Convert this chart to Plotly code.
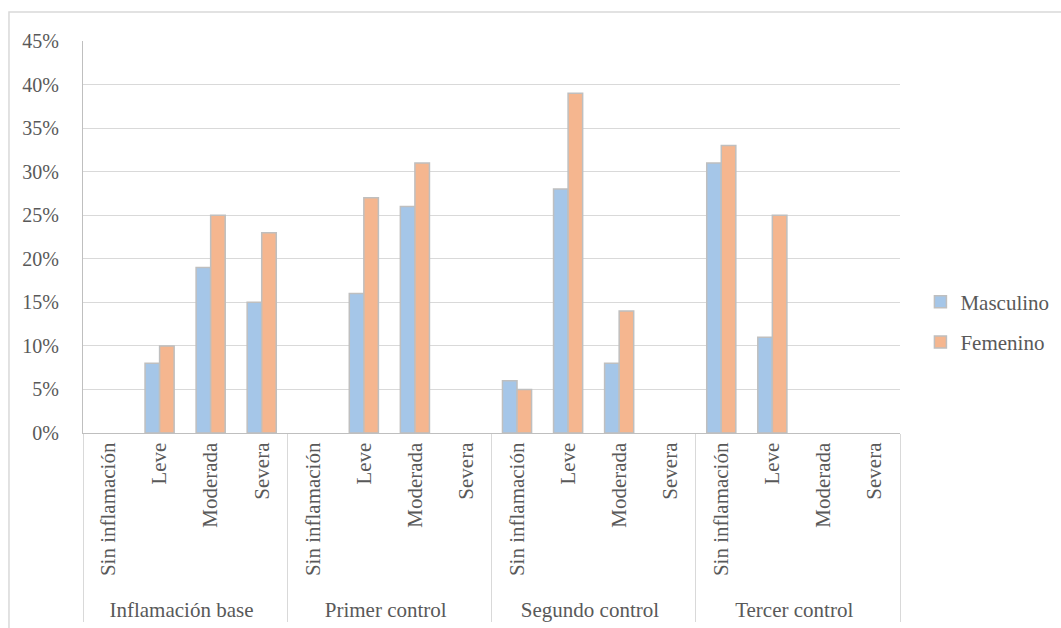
import plotly.graph_objects as go

groups = ["Inflamación base", "Primer control", "Segundo control", "Tercer control"]
levels = ["Sin inflamación", "Leve", "Moderada", "Severa"]

masculino = [None, 8, 19, 15,
             None, 16, 26, None,
             6, 28, 8, None,
             31, 11, None, None]
femenino = [None, 10, 25, 23,
            None, 27, 31, None,
            5, 39, 14, None,
            33, 25, None, None]

x_outer = [g for g in groups for _ in levels]
x_inner = [l for _ in groups for l in levels]

FONT = "Liberation Serif, Times New Roman, serif"
TXT = "#595959"

fig = go.Figure()
fig.add_trace(go.Bar(
    x=[x_outer, x_inner], y=masculino, name="Masculino",
    marker=dict(color="#A5C6E8", line=dict(color="#BFBFBF", width=1.5)),
    legendgroup="m",
))
fig.add_trace(go.Bar(
    x=[x_outer, x_inner], y=femenino, name="Femenino",
    marker=dict(color="#F5B68F", line=dict(color="#BFBFBF", width=1.5)),
    legendgroup="f",
))

fig.update_layout(
    width=1061, height=628,
    margin=dict(l=83, r=161, t=41, b=195, autoexpand=False),
    paper_bgcolor="white", plot_bgcolor="white",
    font=dict(family=FONT, size=21, color=TXT),
    barmode="group", bargap=0.43, bargroupgap=0,
    showlegend=True,
    legend=dict(x=1.025, y=0.283, xanchor="left", yanchor="middle",
                font=dict(family=FONT, size=21, color=TXT),
                traceorder="grouped", tracegroupgap=10,
                itemwidth=30,
                bgcolor="rgba(0,0,0,0)"),
    shapes=[dict(type="rect", xref="paper", yref="paper",
                 x0=-0.0906, x1=1.3, y0=-0.6, y1=1.074,
                 line=dict(color="#D9D9D9", width=1.5), fillcolor="rgba(0,0,0,0)", layer="below")],
)

fig.update_yaxes(
    range=[0, 45], dtick=5, ticksuffix="%",
    showgrid=True, gridcolor="#D9D9D9", gridwidth=1.3,
    showline=True, linecolor="#BFBFBF", linewidth=1.3,
    zeroline=False, ticks="", ticklabelstandoff=19,
    tickfont=dict(family=FONT, size=20, color=TXT),
)
fig.update_xaxes(
    type="multicategory", tickangle=-90,
    showline=True, linecolor="#BFBFBF", linewidth=1.3,
    showdividers=True, dividercolor="#D9D9D9", dividerwidth=1.3,
    ticks="", automargin=False,
    tickfont=dict(family=FONT, size=21, color=TXT),
)

fig.write_html("out.html", config={"displayModeBar": False},
               post_script="document.body.style.margin='0px';")
